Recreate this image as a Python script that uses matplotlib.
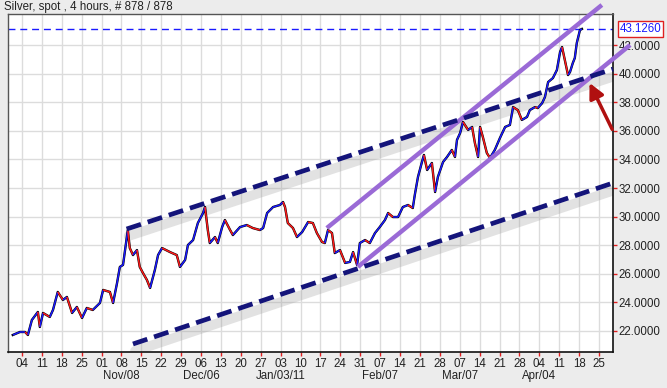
import matplotlib
matplotlib.use("Agg")
import matplotlib.pyplot as plt
import matplotlib.transforms as mtransforms
from matplotlib.collections import LineCollection
import numpy as np

plt.rcParams['font.family'] = ['Liberation Sans', 'DejaVu Sans']

# ---------------- data (x = trading days since Mon 04 Oct 2010) ----------------
days = [-2.3, -0.5, 0.8, 1.5, 2.5, 4.0, 4.5, 5.3, 7.0, 7.8, 9.0, 10.3, 11.3, 12.6, 13.8,
        15.1, 16.3, 17.8, 19.6, 20.4, 22.1, 22.9, 23.9, 24.6, 25.4, 26.6, 27.1, 27.9, 28.9,
        29.6, 30.4, 31.4, 32.2, 33.4, 34.2, 35.2, 37.2, 38.9, 39.7, 41.0, 41.7, 43.0, 44.2,
        45.5, 46.0, 46.7, 47.2, 48.5, 49.2, 50.3, 51.0, 52.3, 53.0, 54.8, 56.5, 58.0, 59.8,
        60.6, 61.6, 63.1, 64.8, 65.6, 66.1, 66.8, 68.1, 69.1, 70.4, 71.9, 73.1, 74.1, 75.4,
        76.1, 76.9, 77.9, 78.6, 79.9, 81.2, 82.4, 83.2, 84.2, 84.9, 86.2, 87.4, 88.7, 89.9,
        91.2, 92.0, 93.2, 94.5, 95.7, 97.0, 98.2, 98.7, 99.5, 100.5, 101.0, 101.8, 103.0,
        103.8, 104.5, 105.8, 106.8, 108.0, 108.8, 109.3, 110.1, 110.8, 112.1, 113.1, 113.8,
        114.6, 115.1, 115.8, 116.8, 117.6, 118.8, 120.1, 121.4, 122.6, 123.4, 124.6, 125.6,
        126.9, 127.6, 128.9, 129.6, 130.7, 131.4, 132.2, 133.4, 134.4, 135.2, 135.7, 136.4,
        137.2, 137.7, 138.4, 138.9, 139.4, 139.7, 140.2, 140.7]
price = [21.72, 21.93, 21.93, 21.72, 22.77, 23.33, 22.28, 23.26, 22.98, 23.47, 24.73, 24.17,
         24.38, 23.26, 23.68, 22.91, 23.61, 23.47, 23.96, 24.87, 24.73, 23.96, 25.36, 26.48,
         26.62, 29.06, 27.80, 27.31, 27.66, 26.48, 26.06, 25.57, 25.01, 26.27, 27.31, 27.80,
         27.52, 27.31, 26.48, 26.97, 28.01, 28.36, 29.55, 30.25, 30.67, 29.06, 28.15, 28.57,
         28.15, 29.27, 29.76, 29.06, 28.71, 29.27, 29.41, 29.20, 29.06, 29.20, 30.25, 30.67,
         30.81, 31.02, 30.67, 29.55, 29.20, 28.57, 28.92, 29.62, 29.55, 28.85, 28.22, 28.15,
         29.06, 28.85, 27.45, 27.66, 26.76, 26.83, 27.52, 26.62, 28.15, 28.36, 28.15, 28.85,
         29.27, 29.76, 30.25, 29.97, 29.97, 30.67, 30.81, 30.60, 31.51, 32.77, 33.82, 34.31,
         33.26, 33.75, 31.72, 32.77, 33.82, 34.17, 34.66, 34.17, 35.36, 35.85, 36.62, 36.06,
         36.27, 35.15, 34.17, 36.27, 35.57, 34.45, 34.10, 34.66, 35.50, 36.27, 36.41, 37.66,
         37.45, 36.76, 36.97, 37.45, 37.66, 37.59, 37.94, 38.36, 39.41, 39.69, 40.25, 41.51,
         41.86, 40.95, 39.90, 40.11, 40.74, 41.09, 42.14, 42.49, 43.05, 43.126]
last_price = 43.126

# trend lines (x in trading days, y in price)
upper_dash_x = [26.3, 148.5]
upper_dash_y = [29.13, 40.32]
lower_dash_x = [27.9, 148.5]
lower_dash_y = [21.09, 32.35]
upper_purple_x = [76.6, 145.7]
upper_purple_y = [29.2, 44.8]
lower_purple_x = [84.4, 152.8]
lower_purple_y = [26.48, 42.0]
arrow_tail = (148.3, 36.1)
arrow_tip = (142.6, 39.35)

week_labels = ['04', '11', '18', '25', '01', '08', '15', '22', '29', '06', '13', '20', '27',
               '03', '10', '17', '24', '31', '07', '14', '21', '28', '07', '14', '21', '28',
               '04', '11', '18', '25']
month_labels = ['Nov/08', 'Dec/06', 'Jan/03/11', 'Feb/07', 'Mar/07', 'Apr/04']
month_weeks = [5, 9, 13, 18, 22, 26]
y_ticks = [22, 24, 26, 28, 30, 32, 34, 36, 38, 40, 42]

# ---------------- figure ----------------
W, H, DPI = 667, 388, 100
fig = plt.figure(figsize=(W / DPI, H / DPI), dpi=DPI, facecolor='#ececec')
ax = fig.add_axes([8 / W, 1 - 352 / H, (613 - 8) / W, (352 - 14) / H])
ax.set_facecolor('white')
ax.set_xlim(-3.5, 148.5)
ax.set_ylim(20.53, 44.17)

xt = [5 * i for i in range(len(week_labels))]
ax.set_xticks(xt)
ax.set_xticklabels(week_labels, fontsize=8.3, color='#222222')
ax.set_yticks(y_ticks)
ax.set_yticklabels(['%.4f' % v for v in y_ticks], fontsize=8.3, color='#222222')
ax.yaxis.tick_right()
ax.tick_params(axis='both', colors='#e02020', length=3, width=1, direction='out', pad=1)
for lab in ax.get_xticklabels() + ax.get_yticklabels():
    lab.set_color('#222222')
ax.tick_params(axis='x', pad=1)
ax.grid(True, color='#dcdcdc', lw=1)
ax.set_axisbelow(True)
for s in ['left', 'top']:
    ax.spines[s].set_color('#555555')
    ax.spines[s].set_linewidth(1)
for s in ['right', 'bottom']:
    ax.spines[s].set_color('#111111')
    ax.spines[s].set_linewidth(1.2)

# month labels
for w, lab in zip(month_weeks, month_labels):
    ax.annotate(lab, xy=(5 * w, 0), xycoords=('data', 'axes fraction'),
                xytext=(0, -13), textcoords='offset points', ha='center', va='top',
                fontsize=8.3, color='#222222', annotation_clip=False)

# last price dashed line
ax.axhline(last_price, color='#1a1aff', lw=1, dashes=(5, 3.5), zorder=2)

# price path: thin black underlay + coloured up/down segments
ax.plot(days, price, color='black', lw=1.7, zorder=3)
pts = np.column_stack([days, price])
segs = np.stack([pts[:-1], pts[1:]], axis=1)
cols = ['#1a1aff' if b >= a else '#ff1a1a' for a, b in zip(price[:-1], price[1:])]
ax.add_collection(LineCollection(segs, colors=cols, linewidths=1.1, zorder=4))

# shadows of the dashed navy lines
shadow_tr = mtransforms.offset_copy(ax.transData, fig=fig, x=2, y=-7, units='dots')
for xs, ys in [(upper_dash_x, upper_dash_y), (lower_dash_x, lower_dash_y)]:
    ax.plot(xs, ys, color='#a0a0a0', lw=7, alpha=0.3, transform=shadow_tr,
            solid_capstyle='round', zorder=2.5, clip_on=True)

# purple channel lines
for xs, ys in [(upper_purple_x, upper_purple_y), (lower_purple_x, lower_purple_y)]:
    ax.plot(xs, ys, color='#9a6ad6', lw=3.2, solid_capstyle='butt', zorder=5, clip_on=False)

# navy dashed lines
for xs, ys in [(upper_dash_x, upper_dash_y), (lower_dash_x, lower_dash_y)]:
    ax.plot(xs, ys, color='#14147a', lw=3.4, dashes=(3.2, 1.5), zorder=6, clip_on=False)

# red arrow
ax.annotate('', xy=arrow_tip, xytext=arrow_tail,
            arrowprops=dict(arrowstyle='-|>,head_length=0.9,head_width=0.45',
                            color='#b01010', lw=2.5, shrinkA=0, shrinkB=0),
            zorder=7, annotation_clip=False)

# last price label box
ax.annotate('%.4f' % last_price, xy=(1, last_price), xycoords=('axes fraction', 'data'),
            xytext=(5, 0), textcoords='offset points', ha='left', va='center',
            fontsize=8.3, color='#1a1aff', annotation_clip=False,
            bbox=dict(boxstyle='square,pad=0.15', fc='white', ec='#e02020', lw=1))

# title
fig.text(4 / W, 1 - 7 / H, 'Silver, spot , 4 hours, # 878 / 878', ha='left', va='center',
         fontsize=8.3, color='#222222')

fig.savefig('out.png', dpi=DPI, facecolor=fig.get_facecolor())
